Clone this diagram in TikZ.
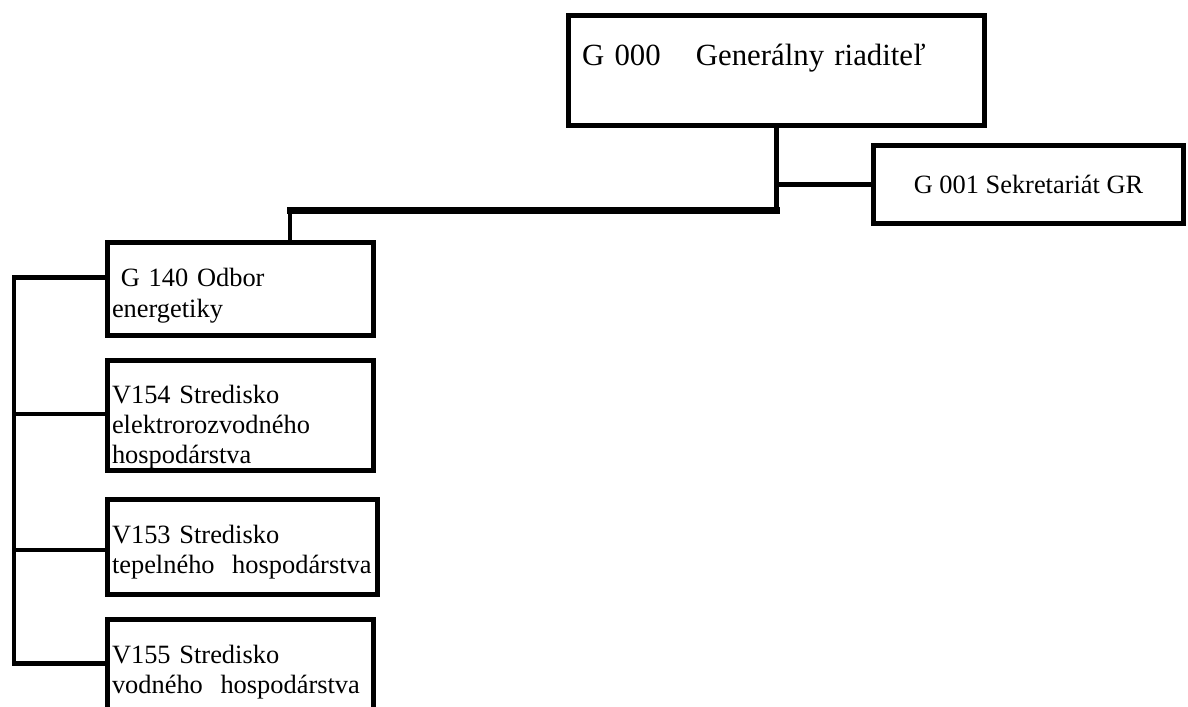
\documentclass[tikz,border=0pt]{standalone}
\usepackage{fontspec}
\setmainfont{Liberation Serif}
\newcommand{\pxu}{0.4545pt}

\begin{document}
\begin{tikzpicture}[x=\pxu, y=-\pxu,
    unit/.style={draw, line width=5*\pxu, outer sep=0pt, inner ysep=0pt, inner xsep=5*\pxu,
      anchor=north west, align=left, font=\fontsize{12}{13.8}\selectfont},
    head/.style={unit, inner xsep=13.5*\pxu, font=\fontsize{14}{16.1}\selectfont},
    link/.style={line width=4.7*\pxu},
    trunk/.style={line width=7*\pxu, line cap=rect}]
	\useasboundingbox (0,0) rectangle (1188,706);
	\clip (0,0) rectangle (1188,706);
	% director and secretariat
	\node[head, text width=389*\pxu, text height=49.5*\pxu, text depth=60.5*\pxu] (gr) at (568.5,15.5) {G 000\hspace{16pt}Generálny riaditeľ};
	\node[unit, align=center, inner xsep=0pt, minimum width=310*\pxu, minimum height=78*\pxu] (sec) at (873.5,145.5) {G 001 Sekretariát GR};
	% energy department and its centres
	\node[unit, text width=256.5*\pxu, text height=44.2*\pxu, text depth=48.8*\pxu] (g140) at (107,242.5) {\ G 140 Odbor\\energetiky};
	\node[unit, text width=256*\pxu, text height=42.5*\pxu, text depth=67.5*\pxu] (v154) at (107,360.5) {V154 Stredisko\\elektrorozvodného\\hospodárstva};
	\node[unit, text width=260.5*\pxu, text height=44.5*\pxu, text depth=51*\pxu] (v153) at (107,499) {V153 Stredisko\\tepelného~~hospodárstva};
	\node[unit, text width=256*\pxu, text height=44*\pxu, text depth=76*\pxu] (v155) at (107,619) {V155 Stredisko\\vodného~~hospodárstva};
	% junctions
	\coordinate (jgr) at (gr.south |- 0,210);
	\coordinate (jg140) at (290,210);
	\coordinate (b1) at (14,277.5);
	\coordinate (b4) at (14,663.5);
	\draw[link] (gr.south) -- (jgr);
	\draw[link] (sec.west) -- (sec.west -| jgr);
	\draw[trunk] (jgr) -- (jg140);
	\draw[link] (jg140) -- (jg140 |- g140.north);
	\draw[link] (g140.west |- b1) -- (b1) -- (b4) -- (v155.west |- b4);
	\draw[link] (v154.west |- 0,414) -- (b1 |- 0,414);
	\draw[link] (v153.west |- 0,550) -- (b1 |- 0,550);
\end{tikzpicture}
\end{document}
